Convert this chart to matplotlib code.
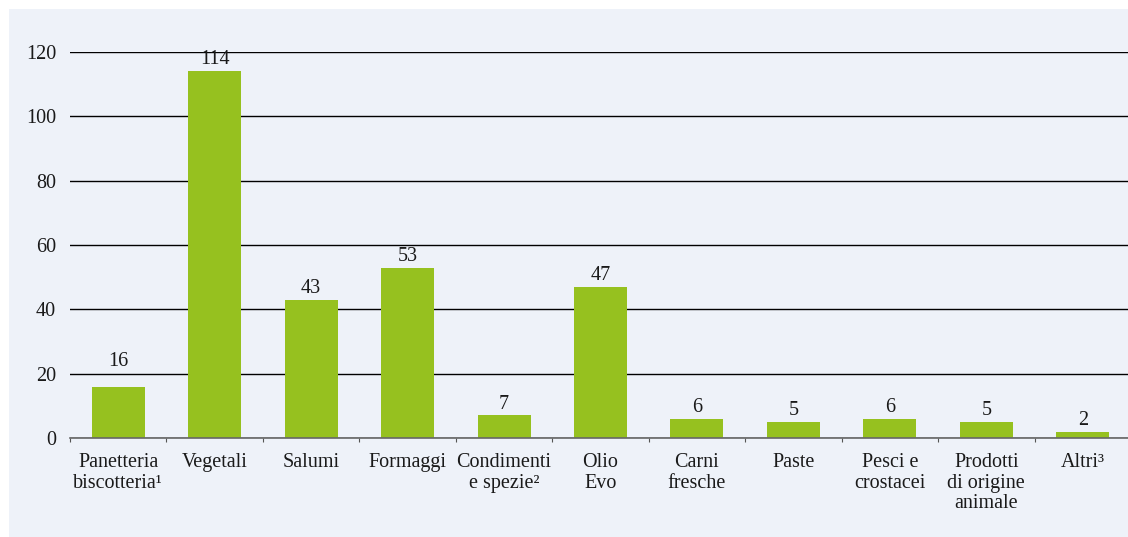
import matplotlib.pyplot as plt
import matplotlib.patches as patches
import numpy as np

categories = ['Panetteria\nbiscotteria¹', 'Vegetali', 'Salumi', 'Formaggi',
              'Condimenti\ne spezie²', 'Olio\nEvo', 'Carni\nfresche', 'Paste',
              'Pesci e\ncrostacei', 'Prodotti\ndi origine\nanimale', 'Altri³']
values = [16, 114, 43, 53, 7, 47, 6, 5, 6, 5, 2]
yticks = [0, 20, 40, 60, 80, 100, 120]

plt.rcParams['font.family'] = ['Liberation Serif', 'DejaVu Serif']
plt.rcParams['font.size'] = 14.5

fig = plt.figure(figsize=(11.28, 5.37), dpi=100)
fig.patch.set_facecolor('white')
bg = patches.Rectangle((9 / 1128, 0), 1 - 9 / 1128, 1 - 9 / 537,
                       transform=fig.transFigure, facecolor='#eef2f9',
                       edgecolor='none', zorder=-10)
fig.patches.append(bg)

ax = fig.add_axes([70 / 1128, 1 - 438 / 537, 1061 / 1128, (438 - 52) / 537])
ax.set_facecolor('none')

x = np.arange(len(categories))
ax.bar(x, values, width=0.55, color='#96c11f', zorder=3)
for xi, v in zip(x, values):
    # labels that would sit on a gridline are lifted above it
    y = v + 0.6
    if v % 20 > 15:
        y = (v // 20 + 1) * 20 + 0.8
    ax.text(xi, y, str(v), ha='center', va='bottom', fontsize=14.5,
            color='#1a1a1a', zorder=4)

ax.set_xlim(-0.5, len(categories) - 0.5)
ax.set_ylim(0, 120)
ax.set_yticks(yticks)
ax.set_yticklabels([str(t) for t in yticks], color='#1a1a1a')
ax.tick_params(axis='y', length=0, pad=10)
ax.yaxis.grid(True, color='black', linewidth=1, zorder=1)

ax.set_xticks(x)
ax.set_xticklabels(categories, color='#1a1a1a', linespacing=1.1, va='top')
ax.tick_params(axis='x', length=0, pad=11)
ax.set_xticks(np.arange(len(categories) + 1) - 0.5, minor=True)
ax.tick_params(axis='x', which='minor', length=3, width=0.8, color='#555555', direction='out')

for s in ['top', 'right', 'left']:
    ax.spines[s].set_visible(False)
ax.spines['bottom'].set_color('#666666')
ax.spines['bottom'].set_linewidth(1.2)
ax.spines['bottom'].set_zorder(5)

plt.savefig('out.png', dpi=100)
